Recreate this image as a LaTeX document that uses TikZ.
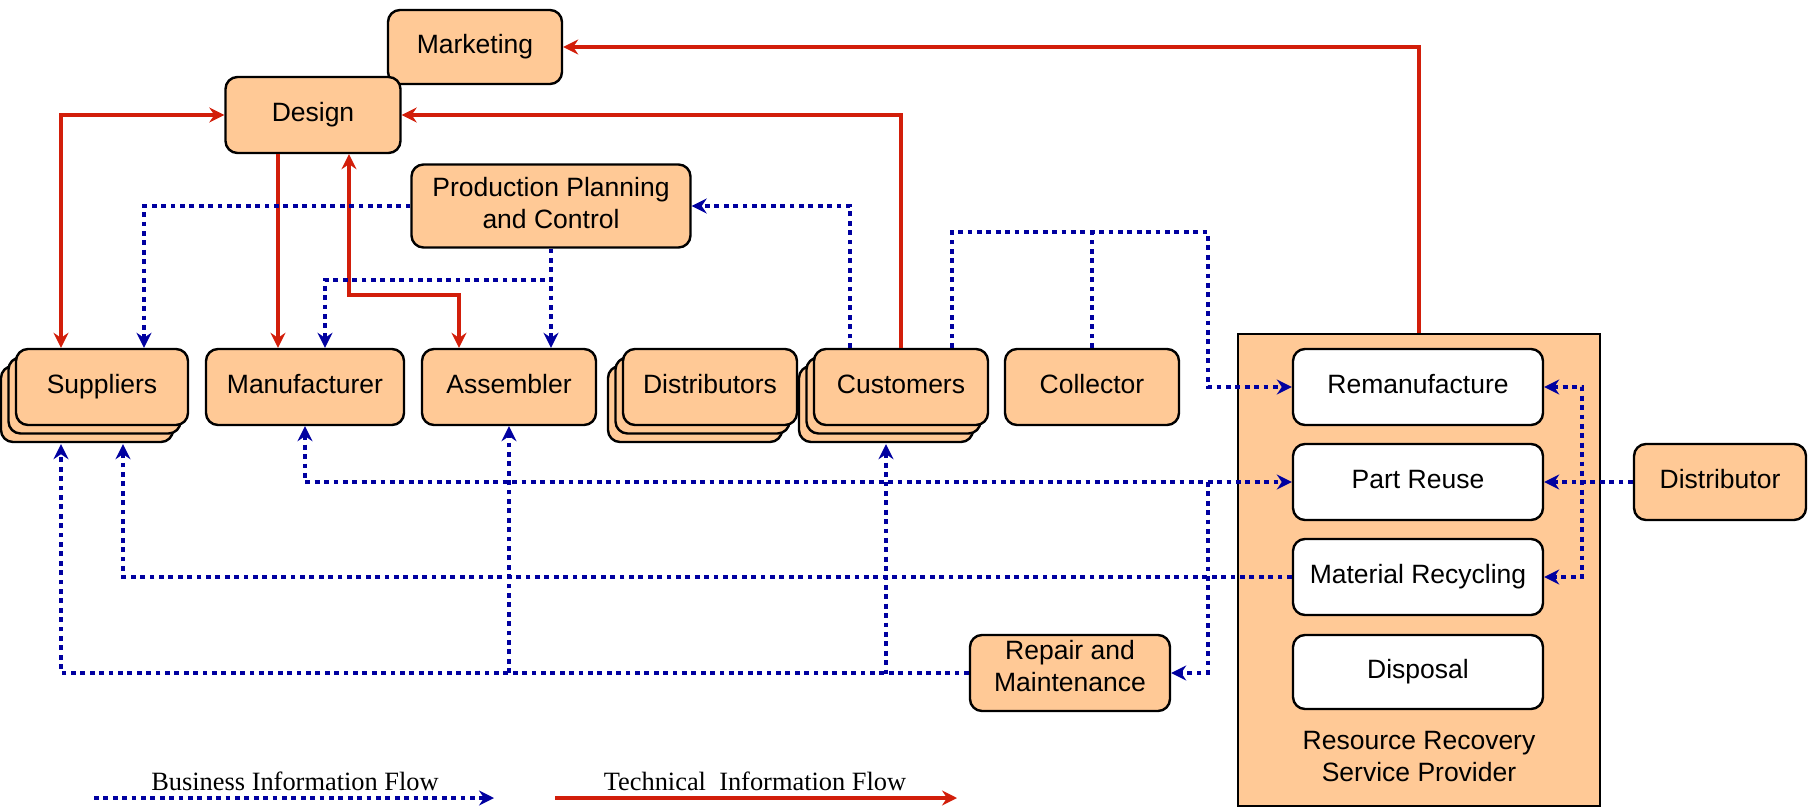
\documentclass[tikz,border=0pt]{standalone}
\usepackage{fontspec}
\setmainfont{Liberation Sans}
\newfontfamily\legendfont{Liberation Serif}
\usetikzlibrary{arrows.meta,shadows}
\definecolor{lcaPeach}{HTML}{FFC996}
\definecolor{lcaRed}{HTML}{D21E0A}
\definecolor{lcaBlue}{HTML}{0000A0}
\tikzset{
  lca box/.style={draw=black, fill=lcaPeach, line width=1.2pt, rounded corners=6pt,
    minimum width=87pt, minimum height=38pt, inner sep=0pt, align=center,
    text height=9.5pt, text depth=3pt},
  lca stack/.style={lca box,
    copy shadow={shadow xshift=-7.5pt, shadow yshift=-8.5pt, fill=lcaPeach, draw=black},
    copy shadow={shadow xshift=-3.75pt, shadow yshift=-4.25pt, fill=lcaPeach, draw=black}},
  lca stage/.style={lca box, fill=white, minimum width=125pt},
  tech flow/.style={draw=lcaRed, line width=2.2pt, ->},
  biz flow/.style={draw=lcaBlue, line width=2.2pt, dash pattern=on 2.4pt off 2.3pt, ->},
  key label/.style={font=\legendfont\fontsize{13.2pt}{15pt}\selectfont},
}

\begin{document}
\begin{tikzpicture}[x=0.5pt, y=-0.5pt, font=\fontsize{13.25pt}{16pt}\selectfont,
    >={Stealth[length=7.5pt, width=7.5pt, inset=2.5pt]}]
  \useasboundingbox (0,0) rectangle (1808,807);

  % design side
  \node[lca box, minimum height=37pt] (mkt) at (475,47) {Marketing};
  \node[lca box, minimum width=87.5pt] (dsn) at (313,115) {Design};
  \node[lca box, minimum width=139.5pt, minimum height=41.5pt, text height=25.5pt, text depth=3pt] (ppc) at (551,206) {Production Planning\\and Control};

  % chain actors
  \node[lca stack, minimum width=86pt] (sup) at (102,387) {Suppliers};
  \node[lca box, minimum width=99pt] (mfr) at (305,387) {Manufacturer};
  \node[lca box] (asm) at (509,387) {Assembler};
  \node[lca stack] (dst) at (710,387) {Distributors};
  \node[lca stack] (cus) at (901,387) {Customers};
  \node[lca box] (col) at (1092,387) {Collector};
  \node[lca box, minimum width=100pt, text height=25.5pt, text depth=7.5pt] (rnm) at (1070,673) {Repair and\\Maintenance};

  % recovery provider and its options
  \node[draw=black, fill=lcaPeach, line width=1.4pt, minimum width=181pt, minimum height=236pt, inner sep=0pt] (rsp) at (1419,570) {};
  \node[lca stage] (rem) at (1418,387) {Remanufacture};
  \node[lca stage] (pru) at (1418,482) {Part Reuse};
  \node[lca stage] (mrc) at (1418,577) {Material Recycling};
  \node[lca stage, minimum height=37pt] (dsp) at (1418,672) {Disposal};
  \node[align=center] (rspname) at (1419,757) {Resource Recovery\\Service Provider};
  \node[lca box, minimum width=86pt] (dtr) at (1720,482) {Distributor};

  % technical information
  \draw[tech flow] (rsp.north) |- (mkt.east);
  \draw[tech flow] (cus.north) |- (dsn.east);
  \draw[tech flow, <->] ([xshift=-20.5pt]sup.north) |- (dsn.west);
  \draw[tech flow] ([xshift=-17.5pt]dsn.south) -- ([xshift=-13.5pt]mfr.north);
  \draw[tech flow, <->] ([xshift=-25pt]asm.north) -- ++(0,-53) -| ([xshift=18pt]dsn.south);

  % business information
  \draw[biz flow] (ppc.west) -| ([xshift=21pt]sup.north);
  \draw[biz flow] (ppc.south) -- ([xshift=21pt]asm.north);
  \draw[biz flow] (ppc.south) -- ++(0,31.5) -| ([xshift=10pt]mfr.north);
  \draw[biz flow] ([xshift=-25.5pt]cus.north) |- (ppc.east);
  \draw[biz flow] ([xshift=25.5pt]cus.north) -- ++(0,-116) -| ([xshift=-42pt]rem.west) -- (rem.west);
  \draw[biz flow, -] (col.north) -- ++(0,-116);
  \draw[biz flow, <->] (mfr.south) |- (pru.west);
  \draw[biz flow] ([xshift=-42pt]pru.west) |- (rnm.east);
  \draw[biz flow] (mrc.west) -| ([xshift=10.5pt, yshift=-9pt]sup.south);
  \draw[biz flow] (rnm.west) -| ([xshift=-20.5pt, yshift=-9pt]sup.south);
  \draw[biz flow] (asm.south |- rnm.west) -- (asm.south);
  \draw[biz flow, <-] ([xshift=-7.5pt, yshift=-9pt]cus.south) -- ++(0,230);
  \draw[biz flow] (dtr.west) -- (pru.east);
  \draw[biz flow, <->] (rem.east) -- ++(38,0) |- (mrc.east);

  % key
  \coordinate (bizA) at (94,798);
  \coordinate (bizB) at (494,798);
  \coordinate (techA) at (555,798);
  \coordinate (techB) at (957,798);
  \draw[biz flow] (bizA) -- (bizB);
  \draw[tech flow] (techA) -- (techB);
  \node[key label] (bizkey) at (295,781) {Business Information Flow};
  \node[key label] (techkey) at (755,781) {Technical\ \ Information Flow};
\end{tikzpicture}
\end{document}
